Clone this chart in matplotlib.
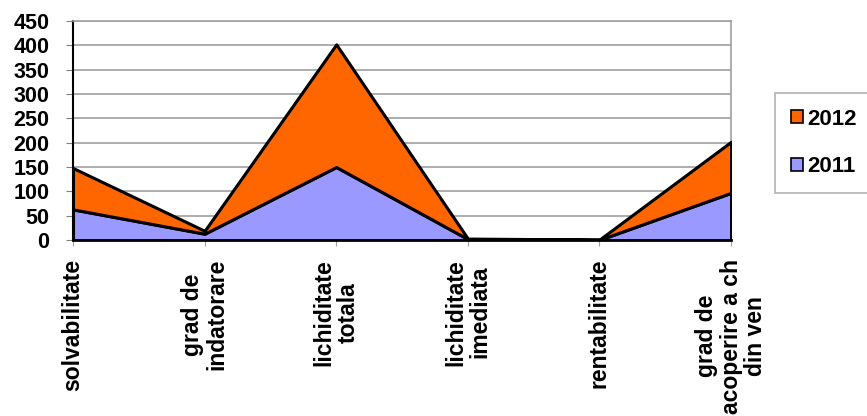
import matplotlib
matplotlib.use("Agg")
import matplotlib.pyplot as plt
from matplotlib.patches import Patch
import numpy as np

categories = ["solvabilitate", "grad de\nindatorare", "lichiditate\ntotala",
              "lichiditate\nimediata", "rentabilitate", "grad de\nacoperire a ch\ndin ven"]
values_2011 = [63, 13, 150, 2, 0.5, 97]
values_2012 = [85, 6, 252, 1, 0.5, 105]
series_names = ["2011", "2012"]
y_ticks = [0, 50, 100, 150, 200, 250, 300, 350, 400, 450]

col_2011 = "#9999FF"
col_2012 = "#FF6600"

plt.rcParams['font.family'] = ['Liberation Sans', 'DejaVu Sans']

fig = plt.figure(figsize=(8.67, 4.16), dpi=100)
ax = fig.add_axes([0.0842, 0.423, 0.759, 0.5265])

x = np.arange(len(categories))
ax.stackplot(x, values_2011, values_2012, colors=[col_2011, col_2012],
             edgecolor="black", linewidth=2.2, zorder=3)

ax.set_xlim(0, len(categories) - 1)
ax.set_ylim(0, 450)
ax.set_yticks(y_ticks)
ax.set_yticklabels([str(v) for v in y_ticks], fontsize=15.5, fontweight="bold")
ax.set_xticks(x)
ax.set_xticklabels(categories, rotation=90, fontsize=16.5, fontweight="bold",
                   ha="center", va="top", multialignment="center",
                   linespacing=1.1)
ax.grid(axis="y", color="#a0a0a0", linewidth=1.2, zorder=0)
ax.set_axisbelow(True)

for s in ["top", "right"]:
    ax.spines[s].set_color("#a0a0a0")
    ax.spines[s].set_linewidth(1.2)
ax.spines["left"].set_color("black")
ax.spines["left"].set_linewidth(1.5)
ax.spines["bottom"].set_color("black")
ax.spines["bottom"].set_linewidth(2)
ax.spines["bottom"].set_zorder(5)
ax.tick_params(axis="y", length=5, color="#808080", pad=12)
ax.tick_params(axis="x", length=4.5, color="#a0a0a0", pad=9)

handles = [Patch(facecolor=col_2012, edgecolor="black", linewidth=1.2),
           Patch(facecolor=col_2011, edgecolor="black", linewidth=1.2)]
leg = fig.legend(handles, ["2012", "2011"], loc="upper left",
                 bbox_to_anchor=(775 / 867, 1 - 93 / 416),
                 prop={"size": 16, "weight": "bold"}, frameon=True,
                 fancybox=False, handlelength=0.55, handleheight=0.55,
                 handletextpad=0.2, labelspacing=1.2, borderpad=0.7,
                 borderaxespad=0)
leg.get_frame().set_edgecolor("#a0a0a0")
leg.get_frame().set_linewidth(1.2)

fig.savefig("out.png", dpi=100)
